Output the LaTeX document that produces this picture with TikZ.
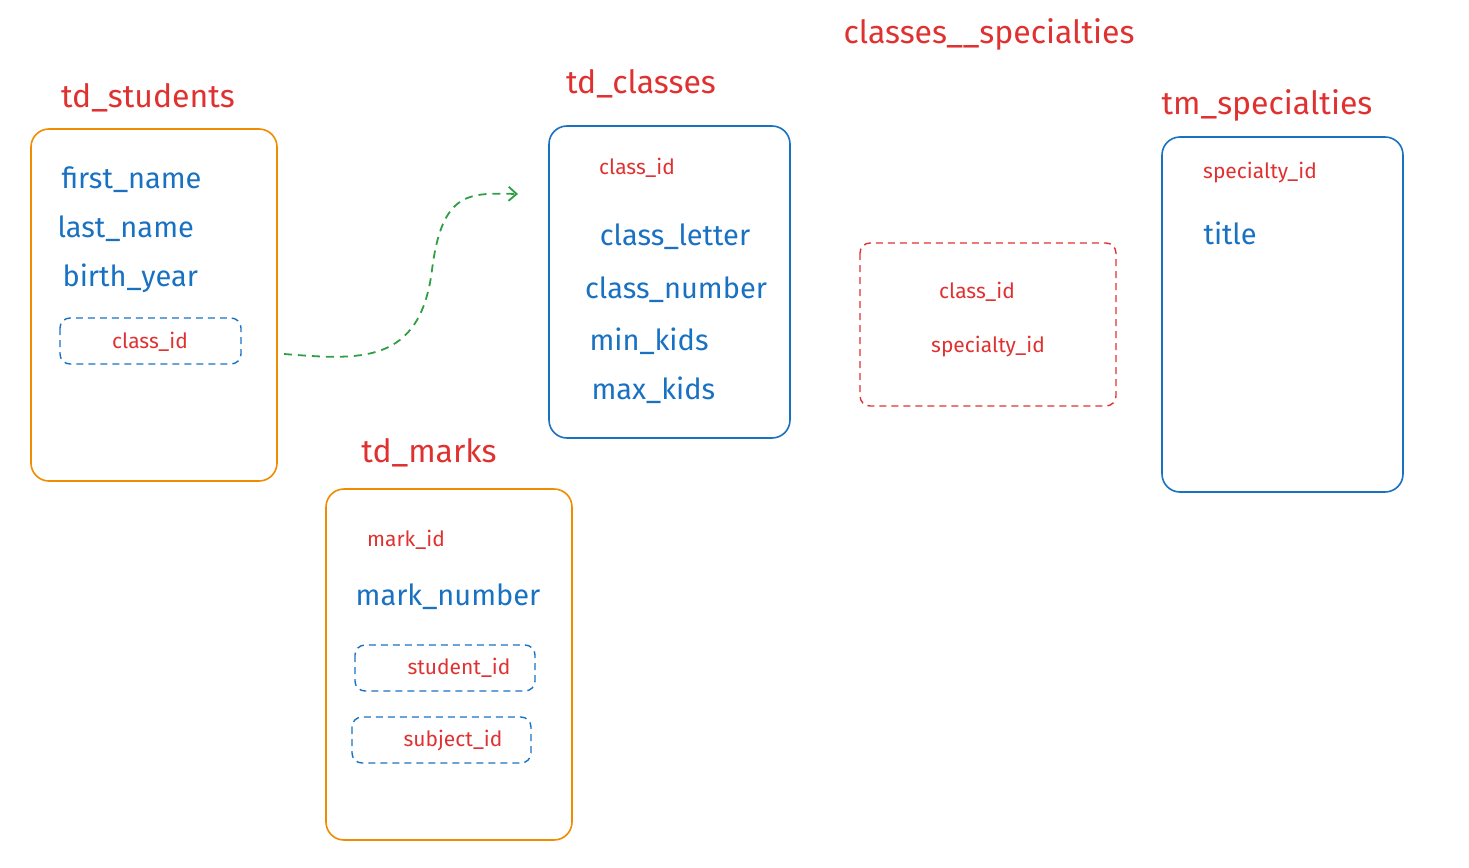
\documentclass[tikz,border=0pt]{standalone}
\usepackage{fontspec}
\setmainfont{Fira Sans}
\usetikzlibrary{arrows.meta}
\definecolor{exorange}{HTML}{F08C00}
\definecolor{exblue}{HTML}{1971C2}
\definecolor{exred}{HTML}{E03131}
\definecolor{exgreen}{HTML}{2F9E44}
\tikzset{
	tablebox/.style={draw, line width=1.6pt, rounded corners=18pt},
	keybox/.style={draw, dashed, line width=1.4pt, rounded corners=10pt, dash pattern=on 7pt off 5pt},
	tabname/.style={text=exred, font=\fontsize{32}{36}\selectfont},
	field/.style={text=exblue, font=\fontsize{29}{32}\selectfont},
	keyname/.style={text=exred, font=\fontsize{21}{24}\selectfont},
}
\begin{document}
\begin{tikzpicture}[x=1pt,y=-1pt]
	\useasboundingbox (0,0) rectangle (1469,867);
	% td_students
	\draw[tablebox,exorange] (31,129) rectangle (277,481);
	\node[tabname] (studentsname) at (148,98) {td\_students};
	\node[field,anchor=west] (firstname) at (58,180) {first\_name};
	\node[field,anchor=west] (lastname) at (54,229) {last\_name};
	\node[field,anchor=west] (birthyear) at (59,278) {birth\_year};
	\draw[keybox,exblue] (60,318) rectangle (241,364);
	\node[keyname] (studentclass) at (150,342) {class\_id};
	% td_classes
	\draw[tablebox,exblue] (549,126) rectangle (790,438);
	\node[tabname] (classesname) at (641,84) {td\_classes};
	\node[keyname] (classid) at (637,168) {class\_id};
	\node[field] (classletter) at (675,237) {class\_letter};
	\node[field] (classnumber) at (676,290) {class\_number};
	\node[field,anchor=west] (minkids) at (586,341) {min\_kids};
	\node[field,anchor=west] (maxkids) at (588,390) {max\_kids};
	% classes__specialties
	\node[tabname] (linkname) at (989,34) {classes\_\_specialties};
	\draw[keybox,exred] (860,243) rectangle (1116,406);
	\node[keyname] (linkclass) at (977,292) {class\_id};
	\node[keyname] (linkspec) at (988,347) {specialty\_id};
	% tm_specialties
	\draw[tablebox,exblue] (1162,137) rectangle (1403,492);
	\node[tabname] (specname) at (1267,105) {tm\_specialties};
	\node[keyname] (specid) at (1260,173) {specialty\_id};
	\node[field,anchor=west] (spectitle) at (1200,233) {title};
	% td_marks
	\draw[tablebox,exorange] (326,489) rectangle (572,840);
	\node[tabname] (marksname) at (429,453) {td\_marks};
	\node[keyname] (markid) at (406,540) {mark\_id};
	\node[field] (marknumber) at (448,597) {mark\_number};
	\draw[keybox,exblue] (355,645) rectangle (535,691);
	\node[keyname] (markstudent) at (459,668) {student\_id};
	\draw[keybox,exblue] (352,717) rectangle (531,763);
	\node[keyname] (marksubject) at (453,741) {subject\_id};
	% link student -> class
	\coordinate (fkstart) at (284,354);
	\coordinate (fkend) at (518,194);
	\draw[exgreen, line width=1.8pt, dash pattern=on 8pt off 6pt, -{Straight Barb[length=8pt,width=14pt]}]
		(fkstart) .. controls (360,360) and (420,365) .. (432,270)
		.. controls (442,190) and (470,193) .. (fkend);
\end{tikzpicture}
\end{document}
